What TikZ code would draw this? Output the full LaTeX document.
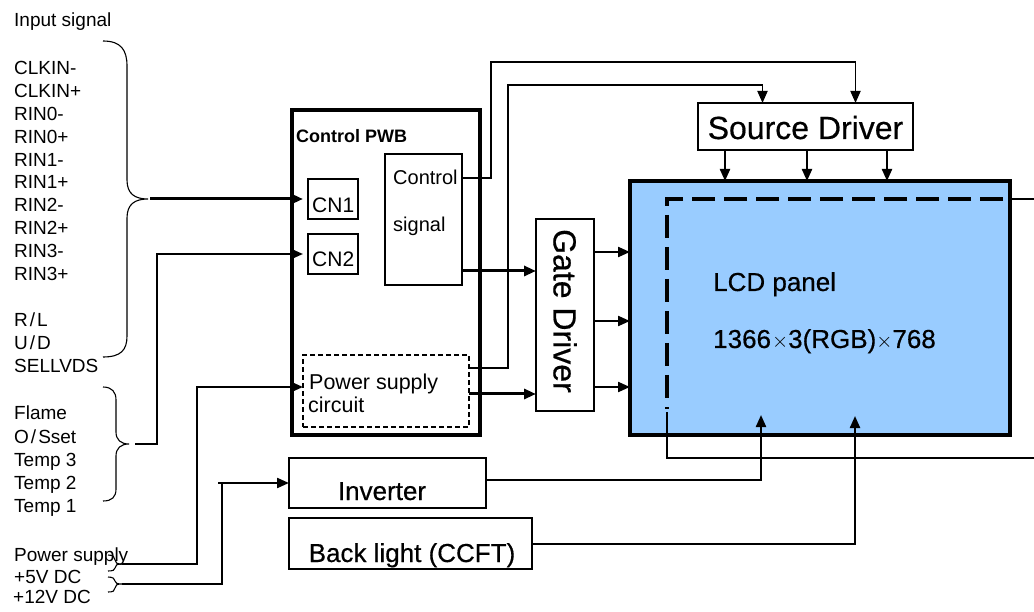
\documentclass[tikz,border=0pt]{standalone}
\usepackage{fontspec}
\setmainfont{Liberation Sans}
\newfontfamily\heavyf{Liberation Sans}[FakeBold=0.5]
\usetikzlibrary{arrows.meta}
\definecolor{lcdblue}{HTML}{99CCFF}
\begin{document}
\begin{tikzpicture}[x=1pt,y=-1pt,
  lbl/.style={inner sep=0pt, anchor=base west, font=\fontsize{#1}{#1}\selectfont},
  clbl/.style={inner sep=0pt, anchor=base, font=\fontsize{#1}{#1}\selectfont},
  box/.style={draw, inner sep=0pt, outer sep=0pt, anchor=north west},
  arr/.style={-{Triangle[length=12pt,width=10pt]}},
  wire/.style={line width=2.2pt},
  fatwire/.style={line width=3pt},
  thinwire/.style={line width=1.8pt},
  bracepath/.style={line width=1.1pt}]
\useasboundingbox (0,0) rectangle (1034,612);

% ---------- left labels ----------
\node[lbl=19] (tin) at (14,27) {Input signal};
\node[lbl=19] (t1) at (14,75) {CLKIN-};
\node[lbl=19] (t2) at (14,97.8) {CLKIN+};
\node[lbl=19] (t3) at (14,120.6) {RIN0-};
\node[lbl=19] (t4) at (14,143.4) {RIN0+};
\node[lbl=19] (t5) at (14,166.2) {RIN1-};
\node[lbl=19] (t6) at (14,189) {RIN1+};
\node[lbl=19] (t7) at (14,211.8) {RIN2-};
\node[lbl=19] (t8) at (14,234.6) {RIN2+};
\node[lbl=19] (t9) at (14,257.4) {RIN3-};
\node[lbl=19] (t10) at (14,280.2) {RIN3+};
\node[lbl=19] (t11) at (14,327) {R\kern2pt/\kern2pt L};
\node[lbl=19] (t12) at (14,350) {U\kern2pt/\kern2pt D};
\node[lbl=19] (t13) at (14,373) {SELLVDS};
\node[lbl=19] (t14) at (14,420) {Flame};
\node[lbl=19] (t15) at (14,443) {O\kern2pt/\kern2pt Sset};
\node[lbl=19] (t16) at (14,466) {Temp 3};
\node[lbl=19] (t17) at (14,489) {Temp 2};
\node[lbl=19] (t18) at (14,512) {Temp 1};
\node[lbl=19] (t19) at (14,561) {Power supply};
\node[lbl=19] (t20) at (14,583) {+5V DC};
\node[lbl=19] (t21) at (13,603) {+12V DC};

% ---------- braces ----------
\coordinate (bt1) at (148,199);
\draw[bracepath] (103,41) .. controls (121,41) and (127,50) .. (127,66) -- (127,180)
  .. controls (127,194) and (135,199) .. (bt1)
  .. controls (135,199) and (127,204) .. (127,218) -- (127,336)
  .. controls (127,350) and (121,357) .. (103,357);
\coordinate (bt2) at (129,444);
\draw[bracepath] (103,387) .. controls (112,387) and (116,392) .. (116,400) -- (116,432)
  .. controls (116,440) and (121,444) .. (bt2)
  .. controls (121,444) and (116,448) .. (116,456) -- (116,489)
  .. controls (116,497) and (112,501) .. (103,501);
\coordinate (bt3) at (122,564);
\draw[bracepath] (108,555) .. controls (113,555) and (115,557) .. (115,560)
  .. controls (115,563) and (117,564) .. (bt3)
  .. controls (117,564) and (115,565) .. (115,568)
  .. controls (115,570) and (113,571) .. (108,571);
\coordinate (bt4) at (122,584);
\draw[bracepath] (108,577) .. controls (113,577) and (115,579) .. (115,581)
  .. controls (115,583) and (117,584) .. (bt4)
  .. controls (117,584) and (115,585) .. (115,588)
  .. controls (115,591) and (113,592) .. (108,592);

% ---------- LCD panel ----------
\node[box, fill=lcdblue, line width=3.5pt, minimum width=380pt, minimum height=254pt] (lcd) at (630,181) {};
\node[lbl=26] (lcdt1) at (713,291) {\heavyf LCD panel};
\node[lbl=26] (lcdt2) at (713,348) {\heavyf 1366\kern1pt{\fontsize{20}{20}\selectfont$\times$}3(RGB){\fontsize{20}{20}\selectfont$\times$}768};
\coordinate (dTR) at (1003,199);
\coordinate (dTL) at (667,199);
\coordinate (dBL) at (667,409);
\coordinate (sBL) at (667,458);
\coordinate (rTop) at (1034,199);
\coordinate (rBot) at (1034,458);
\draw[line width=3.2pt, dash pattern=on 23pt off 9pt] (dTR) -- (dTL) -- (dBL);
\draw[thinwire] (lcd.east |- dTR) -- (rTop);
\draw[wire] (667,412) -- (sBL) -- (rBot);

% ---------- Control PWB ----------
\node[box, line width=3.5pt, minimum width=188pt, minimum height=325pt] (pwb) at (292,110) {};
\node[lbl=18, font=\fontsize{18}{18}\selectfont\bfseries] (pwbt) at (296,143) {Control PWB};
\node[box, line width=1.2pt, minimum width=50pt, minimum height=40pt] (cn1) at (308,179) {};
\node[lbl=21] (cn1t) at (312,213) {CN1};
\node[box, line width=1.2pt, minimum width=50pt, minimum height=40pt] (cn2) at (308,234) {};
\node[lbl=21] (cn2t) at (312,267) {CN2};
\node[box, line width=1.2pt, minimum width=77pt, minimum height=131pt] (ctl) at (385,154) {};
\node[lbl=20] (ctlt1) at (393,185) {Control};
\node[lbl=20] (ctlt2) at (393,232) {signal};
\node[box, line width=2pt, dash pattern=on 5pt off 3pt, minimum width=166pt, minimum height=72pt] (psc) at (303,355) {};
\node[lbl=21.5] (psct1) at (309,390) {Power supply};
\node[lbl=21.5] (psct2) at (308,413) {circuit};

% ---------- Gate / Source drivers ----------
\node[box, line width=1.2pt, minimum width=58pt, minimum height=192pt] (gate) at (536,219) {};
\node[inner sep=0pt, rotate=-90, font=\fontsize{32}{32}\selectfont] (gatet) at (565,311) {\heavyf Gate Driver};
\node[box, line width=1.2pt, minimum width=215pt, minimum height=47pt] (src) at (698,103) {};
\node[clbl=32] (srct) at (805.5,139) {\heavyf Source Driver};

% ---------- Inverter / Back light ----------
\node[box, line width=2.2pt, minimum width=197pt, minimum height=50pt] (inv) at (289,458) {};
\node[clbl=26] (invt) at (382,500) {\heavyf Inverter};
\node[box, line width=2.2pt, minimum width=243pt, minimum height=51pt] (bl) at (289,518) {};
\node[clbl=26] (blt) at (412,562) {\heavyf Back light (CCFT)};

% ---------- connectors ----------
\coordinate (cn1in) at ([xshift=-5pt]cn1.west);
\coordinate (cn2in) at ([xshift=-5pt]cn2.west);
\coordinate (psin) at ([yshift=4pt]psc.west);
\draw[fatwire, arr] ([xshift=2pt]bt1) -- (cn1in);
\draw[wire, arr] (135,444) -- (157,444) |- (cn2in);
\draw[wire, arr] (bt3) -- (197,564) |- (psin);
\draw[wire] (bt4) -- (222,584) -- (222,483);
\draw[wire, arr] (218,483) -- (inv.west);

\draw[thinwire, arr] (ctl.east |- 0,178) -- (491,178) -- (491,62) -| ([xshift=50pt]src.north);
\draw[thinwire, arr] (psc.east |- 0,368) -- (508,368) -- (508,85) -| ([xshift=-43pt]src.north);
\draw[fatwire, arr] (ctl.east |- 0,271) -- (gate.west |- 0,271);
\draw[fatwire, arr] (psc.east |- 0,394) -- (gate.west |- 0,394);

\foreach \yy in {252,321,387} \draw[wire, arr] (gate.east |- 0,\yy) -- (lcd.west |- 0,\yy);
\foreach \xx in {725,807,887} \draw[wire, arr] (src.south -| \xx,0) -- (lcd.north -| \xx,0);

\draw[wire, arr] (inv.east |- 0,480) -| (761,415);
\draw[wire, arr] (bl.east |- 0,544) -| (855,416);
\end{tikzpicture}
\end{document}
